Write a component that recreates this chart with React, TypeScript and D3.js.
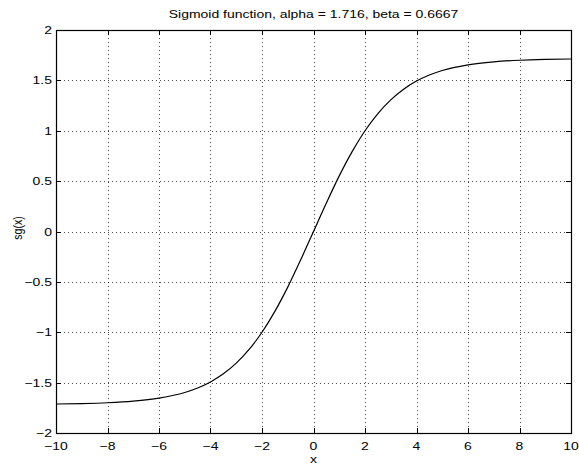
import React from "react";
import * as d3 from "d3";

const xs = [-10, -9, -8, -7, -6, -5, -4.5, -4, -3.5, -3, -2.5, -2, -1.5, -1, -0.5, 0, 0.5, 1, 1.5, 2, 2.5, 3, 3.5, 4, 4.5, 5, 6, 7, 8, 9, 10];
const ys = [-1.712, -1.708, -1.700, -1.684, -1.654, -1.598, -1.553, -1.493, -1.413, -1.307, -1.171, -1.0, -0.793, -0.552, -0.283, 0, 0.283, 0.552, 0.793, 1.0, 1.171, 1.307, 1.413, 1.493, 1.553, 1.598, 1.654, 1.684, 1.700, 1.708, 1.712];
const xTicks = [-10, -8, -6, -4, -2, 0, 2, 4, 6, 8, 10];
const yTicks = [-2, -1.5, -1, -0.5, 0, 0.5, 1, 1.5, 2];
const title = "Sigmoid function, alpha = 1.716, beta = 0.6667";
const xLabel = "x";
const yLabel = "sg(x)";

const W = 579, H = 468;
const L = 56, R = 571, T = 30, B = 433;
const FONT = "Liberation Sans, Arial, Helvetica, sans-serif";
const SX = 1.27;
const FS = 11;

const fmt = (v: number) => (v < 0 ? "\u2212" + String(-v) : String(v));

function T_({ x, y, anchor, children }: { x: number; y: number; anchor: string; children: React.ReactNode }) {
  return (
    <text transform={`translate(${x},${y}) scale(${SX},1)`} fontSize={FS} textAnchor={anchor as any} fill="#000">
      {children}
    </text>
  );
}

export default function App() {
  const x = d3.scaleLinear().domain([-10, 10]).range([L, R]);
  const y = d3.scaleLinear().domain([-2, 2]).range([B, T]);
  const line = d3.line<number>().x((_, i) => x(xs[i])).y((d) => y(d)).curve(d3.curveMonotoneX);
  const tl = 5;
  const py = (t: number) => Math.round(y(t)) + 0.5;
  const px = (t: number) => Math.round(x(t)) + 0.5;
  return (
    <svg width={W} height={H} style={{ position: "absolute", left: 0, top: 0, background: "#fff" }} fontFamily={FONT}>
      <rect x={0} y={0} width={W} height={H} fill="#fff" />
      {xTicks.slice(1, -1).map((t) => (
        <line key={"gx" + t} x1={px(t)} x2={px(t)} y1={T} y2={B} stroke="#000" strokeWidth={1} strokeDasharray="1,3" opacity={0.7} />
      ))}
      {yTicks.slice(1, -1).map((t) => (
        <line key={"gy" + t} x1={L} x2={R} y1={py(t)} y2={py(t)} stroke="#000" strokeWidth={1} strokeDasharray="1,3" opacity={0.7} />
      ))}
      {xTicks.map((t) => (
        <g key={"tx" + t}>
          <line x1={px(t)} x2={px(t)} y1={B} y2={B - tl} stroke="#000" />
          <line x1={px(t)} x2={px(t)} y1={T} y2={T + tl} stroke="#000" />
          <T_ x={x(t)} y={450} anchor="middle">{fmt(t)}</T_>
        </g>
      ))}
      {yTicks.map((t) => (
        <g key={"ty" + t}>
          <line x1={L} x2={L + tl} y1={py(t)} y2={py(t)} stroke="#000" />
          <line x1={R} x2={R - tl} y1={py(t)} y2={py(t)} stroke="#000" />
          <T_ x={52} y={y(t) + 4} anchor="end">{fmt(t)}</T_>
        </g>
      ))}
      <rect x={L + 0.5} y={T + 0.5} width={R - L} height={B - T} fill="none" stroke="#000" strokeWidth={1.2} />
      <path d={line(ys) || ""} fill="none" stroke="#000" strokeWidth={1.2} />
      <T_ x={(L + R) / 2} y={17.5} anchor="middle">{title}</T_>
      <T_ x={(L + R) / 2} y={463} anchor="middle">{xLabel}</T_>
      <text transform={`translate(22,228) rotate(-90) scale(1,${SX})`} fontSize={10.5} textAnchor="middle" fill="#000">
        {yLabel}
      </text>
    </svg>
  );
}
